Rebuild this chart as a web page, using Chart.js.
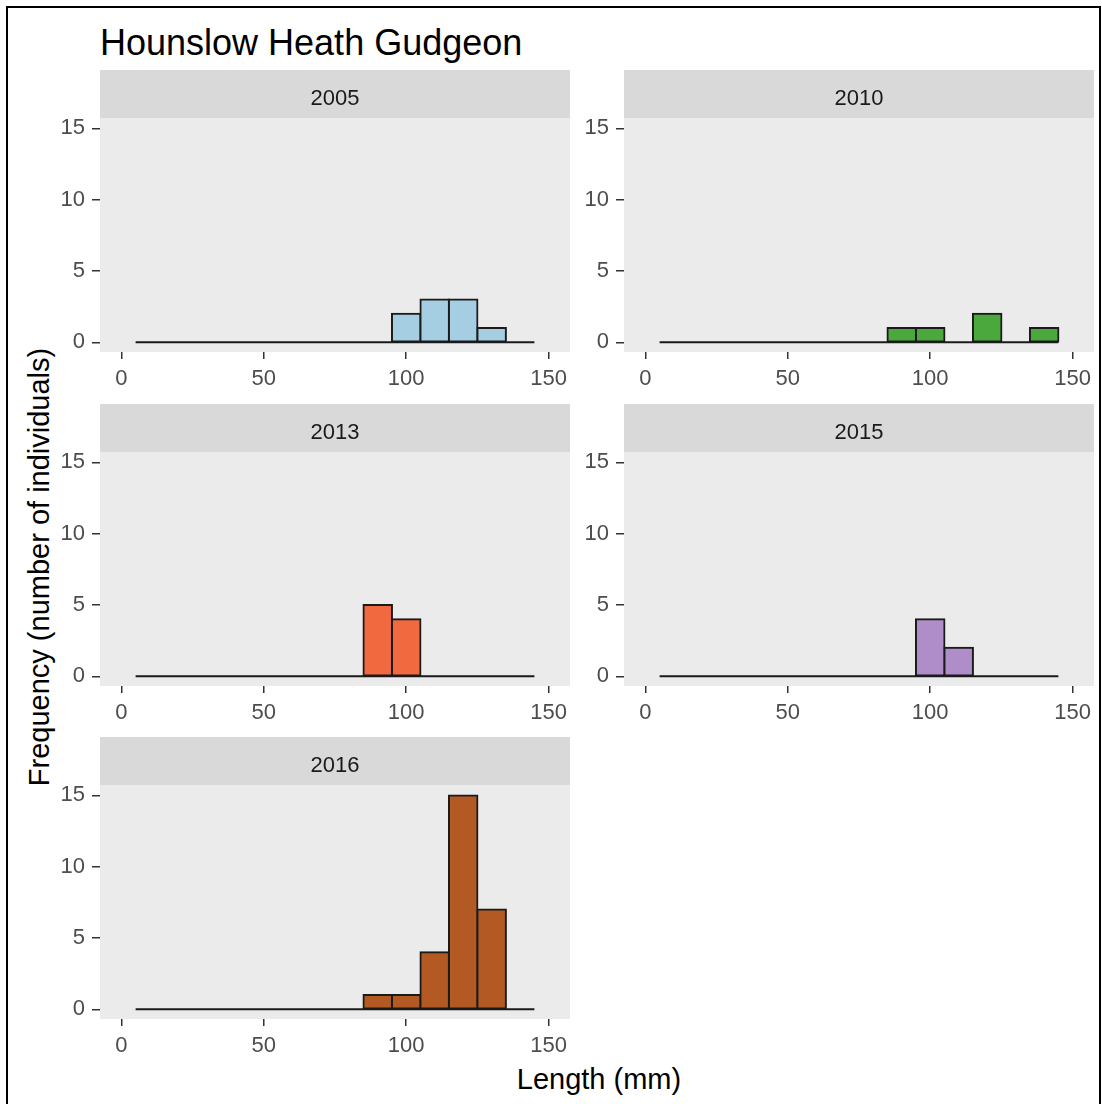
<!DOCTYPE html>
<html>
<head>
<meta charset="utf-8">
<script src="https://cdn.jsdelivr.net/npm/chart.js@4.4.1/dist/chart.umd.min.js"></script>
<style>
  html, body { margin:0; padding:0; background:#fff; }
  body { width:1102px; height:1104px; position:relative; overflow:hidden; font-family:"Liberation Sans", Arial, sans-serif; }
  #frame { position:absolute; left:6px; top:6px; width:1095px; height:1120px; border:2px solid #000; box-sizing:border-box; }
  .panel { position:absolute; }
  #title { position:absolute; left:100px; top:25px; font-size:36px; line-height:36px; color:#000; white-space:nowrap; }
  #xtitle { position:absolute; left:499px; width:200px; text-align:center; top:1065px; font-size:29px; line-height:29px; color:#000; white-space:nowrap; }
  #ytitle { position:absolute; left:39px; top:567px; font-size:29px; line-height:29px; color:#000; white-space:nowrap; transform:translate(-50%,-50%) rotate(-90deg); }
</style>
</head>
<body>
<div id="frame"></div>
<div id="title">Hounslow Heath Gudgeon</div>
<div id="ytitle">Frequency (number of individuals)</div>
<div id="xtitle">Length (mm)</div>

<script>
// ---- data ----
const years = ["2005", "2010", "2013", "2015", "2016"];
const binCenters = [10, 20, 30, 40, 50, 60, 70, 80, 90, 100, 110, 120, 130, 140];
const counts2005 = [0, 0, 0, 0, 0, 0, 0, 0, 0, 2, 3, 3, 1, 0];
const counts2010 = [0, 0, 0, 0, 0, 0, 0, 0, 1, 1, 0, 2, 0, 1];
const counts2013 = [0, 0, 0, 0, 0, 0, 0, 0, 5, 4, 0, 0, 0, 0];
const counts2015 = [0, 0, 0, 0, 0, 0, 0, 0, 0, 4, 2, 0, 0, 0];
const counts2016 = [0, 0, 0, 0, 0, 0, 0, 0, 1, 1, 4, 15, 7, 0];
const lengthRange = [5, 145];
const xTicks = [0, 50, 100, 150];
const yTicks = [0, 5, 10, 15];
const fills = ["#a6cee3", "#4aa83d", "#f1693f", "#ae8dc8", "#b35a24"];

const seriesByYear = [counts2005, counts2010, counts2013, counts2015, counts2016];

// ---- layout ----
const FONT = '"Liberation Sans", Arial, sans-serif';
const PANEL_W = 470, PANEL_H = 234, STRIP_H = 48, YAXIS_W = 60, XAXIS_H = 45, RIGHT_PAD = 12;
const colLeft = [100, 624];
const rowTop = [70, 404, 737];

const panelBg = {
  id: 'panelBg',
  beforeDraw(chart) {
    const ca = chart.chartArea, ctx = chart.ctx;
    ctx.save();
    ctx.fillStyle = '#d9d9d9';
    ctx.fillRect(ca.left, ca.top - STRIP_H, ca.right - ca.left, STRIP_H);
    ctx.fillStyle = '#ebebeb';
    ctx.fillRect(ca.left, ca.top, ca.right - ca.left, ca.bottom - ca.top);
    ctx.restore();
  }
};

years.forEach((yr, i) => {
  const col = i % 2, row = Math.floor(i / 2);
  const wrap = document.createElement('div');
  wrap.className = 'panel';
  const W = YAXIS_W + PANEL_W + RIGHT_PAD, H = STRIP_H + PANEL_H + XAXIS_H;
  wrap.style.left = (colLeft[col] - YAXIS_W) + 'px';
  wrap.style.top = rowTop[row] + 'px';
  wrap.style.width = W + 'px';
  wrap.style.height = H + 'px';
  const cv = document.createElement('canvas');
  cv.width = W; cv.height = H;
  cv.style.width = W + 'px'; cv.style.height = H + 'px';
  wrap.appendChild(cv);
  document.body.appendChild(wrap);

  const counts = seriesByYear[i];
  new Chart(cv.getContext('2d'), {
    type: 'bar',
    data: {
      datasets: [
        {
          type: 'line',
          data: [{x: lengthRange[0], y: 0}, {x: lengthRange[1], y: 0}],
          borderColor: '#1a1a1a',
          borderWidth: 2,
          pointRadius: 0,
          fill: false
        },
        {
          type: 'bar',
          data: binCenters.map((c, k) => ({x: c, y: counts[k]})),
          backgroundColor: fills[i],
          borderColor: '#1a1a1a',
          borderWidth: 2,
          borderSkipped: false,
          inflateAmount: 1,
          barPercentage: 1,
          categoryPercentage: 1
        }
      ]
    },
    options: {
      responsive: false,
      devicePixelRatio: 1,
      animation: false,
      events: [],
      layout: { padding: { left: 0, right: RIGHT_PAD, top: 0, bottom: 0 } },
      plugins: {
        legend: { display: false },
        tooltip: { enabled: false },
        title: {
          display: true,
          text: yr,
          fullSize: false,
          color: '#1a1a1a',
          font: { family: FONT, size: 22, weight: 'normal', lineHeight: 1 },
          padding: { top: 18, bottom: 8 }
        }
      },
      scales: {
        x: {
          type: 'linear',
          min: -7.5, max: 157.5,
          offset: false,
          afterBuildTicks: s => { s.ticks = xTicks.map(v => ({value: v})); },
          afterFit: s => { s.height = XAXIS_H; },
          border: { display: false },
          grid: { display: true, offset: false, drawOnChartArea: false, drawTicks: true, tickLength: 7, tickColor: '#333333', tickWidth: 1.5, lineWidth: 1.5 },
          ticks: { color: '#4d4d4d', font: { family: FONT, size: 22 }, padding: 7, maxRotation: 0, autoSkip: false }
        },
        y: {
          type: 'linear',
          min: -0.68, max: 15.73,
          afterBuildTicks: s => { s.ticks = yTicks.map(v => ({value: v})); },
          afterFit: s => { s.width = YAXIS_W; },
          border: { display: false },
          grid: { display: true, drawOnChartArea: false, drawTicks: true, tickLength: 8, tickColor: '#333333', tickWidth: 1.5, lineWidth: 1.5 },
          ticks: { color: '#4d4d4d', font: { family: FONT, size: 22 }, padding: 7, autoSkip: false }
        }
      }
    },
    plugins: [panelBg]
  });
});
</script>
</body>
</html>
